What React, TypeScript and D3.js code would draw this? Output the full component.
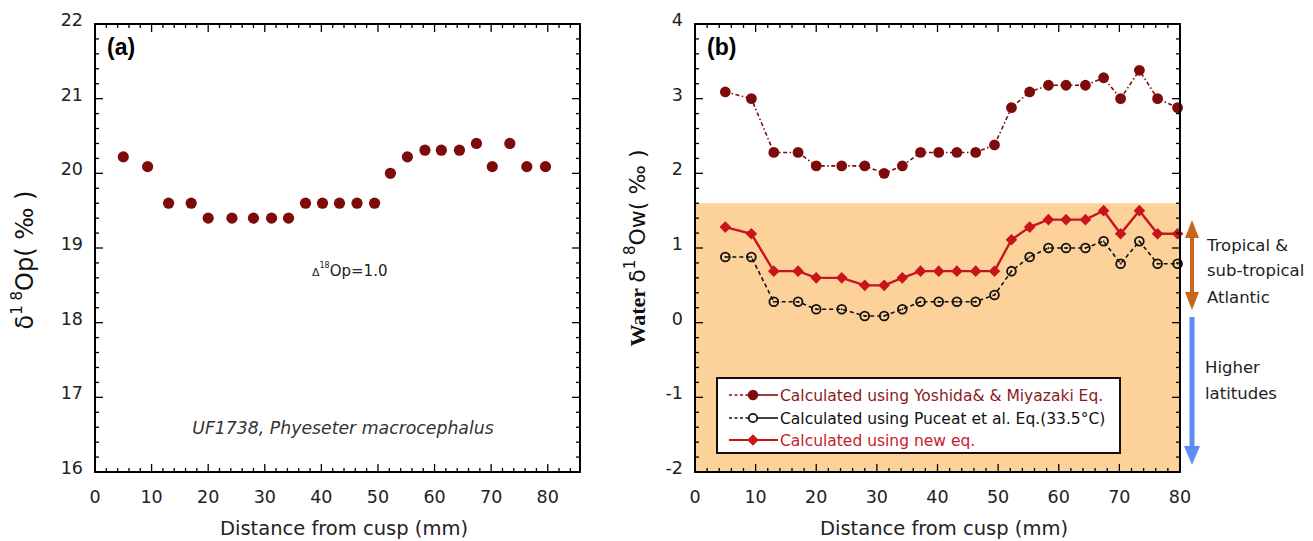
import React from "react";
import * as d3 from "d3";

const distance = [5, 9.3, 13, 17, 20, 24.2, 28, 31.2, 34.2, 37.2, 40.2, 43.2, 46.3, 49.4, 52.2, 55.2, 58.3, 61.2, 64.4, 67.4, 70.2, 73.3, 76.3, 79.6];
const d18Op = [20.22, 20.09, 19.6, 19.6, 19.4, 19.4, 19.4, 19.4, 19.4, 19.6, 19.6, 19.6, 19.6, 19.6, 20.0, 20.22, 20.31, 20.31, 20.31, 20.4, 20.09, 20.4, 20.09, 20.09];
const yoshida = [3.09, 3.0, 2.28, 2.28, 2.1, 2.1, 2.1, 2.0, 2.1, 2.28, 2.28, 2.28, 2.28, 2.38, 2.88, 3.09, 3.18, 3.18, 3.18, 3.28, 3.0, 3.38, 3.0, 2.88];
const puceat = [0.88, 0.88, 0.28, 0.28, 0.18, 0.18, 0.09, 0.09, 0.18, 0.28, 0.28, 0.28, 0.28, 0.37, 0.69, 0.88, 1.0, 1.0, 1.0, 1.09, 0.79, 1.09, 0.79, 0.79];
const newEq = [1.28, 1.19, 0.69, 0.69, 0.6, 0.6, 0.5, 0.5, 0.6, 0.69, 0.69, 0.69, 0.69, 0.69, 1.11, 1.28, 1.38, 1.38, 1.38, 1.5, 1.19, 1.5, 1.19, 1.19];

const xTicks = [0, 10, 20, 30, 40, 50, 60, 70, 80];
const yTicksA = [16, 17, 18, 19, 20, 21, 22];
const yTicksB = [-2, -1, 0, 1, 2, 3, 4];
const tropicalTop = 1.6;

const legendLabels = [
  "Calculated using Yoshida& & Miyazaki Eq.",
  "Calculated using Puceat et al. Eq.(33.5°C)",
  "Calculated using new eq.",
];

const DARK = "#7e0b0b";
const RED = "#c8141c";
const ORANGE_BG = "#fdd29a";
const FONT = "'DejaVu Sans', 'Liberation Sans', Arial, sans-serif";
const FONT2 = "'Liberation Sans', Arial, sans-serif";

const xA = d3.scaleLinear().domain([0, 85.7]).range([95, 580]);
const yA = d3.scaleLinear().domain([16, 22]).range([472, 24]);
const xB = d3.scaleLinear().domain([0, 80]).range([695, 1180]);
const yB = d3.scaleLinear().domain([-2, 4]).range([472, 24]);

function Frame({ x, y, xMax, yMin, yMax, yLabels }: any) {
  const [x0, x1] = x.range();
  const [y0, y1] = y.range();
  const xMinor = d3.range(0, xMax + 0.001, 2);
  const yMinor = d3.range(yMin, yMax + 0.001, 0.2);
  const ticks: any[] = [];
  xMinor.forEach((v, i) => {
    const major = Math.abs(v % 10) < 1e-6;
    const L = major ? 8 : 4;
    const px = x(v);
    ticks.push(<line key={"xb" + i} x1={px} x2={px} y1={y0} y2={y0 - L} />);
    ticks.push(<line key={"xt" + i} x1={px} x2={px} y1={y1} y2={y1 + L} />);
  });
  yMinor.forEach((v, i) => {
    const major = Math.abs(v - Math.round(v)) < 1e-6;
    const L = major ? 8 : 4;
    const py = y(v);
    ticks.push(<line key={"yl" + i} x1={x0} x2={x0 + L} y1={py} y2={py} />);
    ticks.push(<line key={"yr" + i} x1={x1} x2={x1 - L} y1={py} y2={py} />);
  });
  return (
    <g>
      <g stroke="#000" strokeWidth={1.3}>{ticks}</g>
      <rect x={x0} y={y1} width={x1 - x0} height={y0 - y1} fill="none" stroke="#000" strokeWidth={2} />
      <g fontFamily={FONT} fontSize={17.5} fill="#222">
        {xTicks.map((t) => (
          <text key={"xl" + t} x={x(t)} y={503} textAnchor="middle">{t}</text>
        ))}
        {yLabels.map((t: number) => (
          <text key={"ylb" + t} x={x0 - 12} y={y(t) + 2} textAnchor="end">{t}</text>
        ))}
      </g>
    </g>
  );
}

function diamond(cx: number, cy: number, r: number) {
  return `M${cx},${cy - r}L${cx + r},${cy}L${cx},${cy + r}L${cx - r},${cy}Z`;
}

export default function App() {
  const lineYosh = d3.line<number>().x((_, i) => xB(distance[i])).y((v) => yB(v));
  const [bx0, bx1] = xB.range();

  return (
    <svg width={1313} height={541} style={{ display: "block", position: "absolute", left: 0, top: 0 }}>
      <rect width={1313} height={541} fill="#fff" />

      {/* Panel (a) */}
      <Frame x={xA} y={yA} xMax={84} yMin={16} yMax={22} yLabels={yTicksA} />
      {distance.map((d, i) => (
        <circle key={"a" + i} cx={xA(d)} cy={yA(d18Op[i])} r={5.6} fill={DARK} />
      ))}
      <text x={107} y={55} fontFamily={FONT2} fontSize={23} fontWeight="bold">(a)</text>
      <text x={312} y={276} fontFamily={FONT} fontSize={15} fill="#222">
        <tspan fontSize={11}>Δ</tspan>
        <tspan fontSize={8} dy={-8}>18</tspan>
        <tspan dy={8}>Op=1.0</tspan>
      </text>
      <text x={343} y={434} fontFamily={FONT} fontSize={17.3} fontStyle="italic" textAnchor="middle" fill="#333">
        UF1738, Phyeseter macrocephalus
      </text>
      <text x={344} y={535} fontFamily={FONT} fontSize={19.5} textAnchor="middle" fill="#222">
        Distance from cusp (mm)
      </text>
      <text transform="translate(33,260) rotate(-90)" fontFamily={FONT} fontSize={24} textAnchor="middle" fill="#111">
        <tspan>δ</tspan>
        <tspan fontSize={15} dy={-11}>1 8</tspan>
        <tspan dy={11}>Op( ‰ )</tspan>
      </text>

      {/* Panel (b) */}
      <rect x={bx0} y={yB(tropicalTop)} width={bx1 - bx0} height={yB(-2) - yB(tropicalTop)} fill={ORANGE_BG} />
      <path d={lineYosh(yoshida) || ""} fill="none" stroke={DARK} strokeWidth={1.6} strokeDasharray="4,2.5,1.5,2.5" />
      <path d={lineYosh(puceat) || ""} fill="none" stroke="#111" strokeWidth={1.6} strokeDasharray="4,3" />
      <path d={lineYosh(newEq) || ""} fill="none" stroke={RED} strokeWidth={2.4} />
      {distance.map((d, i) => (
        <circle key={"y" + i} cx={xB(d)} cy={yB(yoshida[i])} r={5.4} fill={DARK} />
      ))}
      {distance.map((d, i) => (
        <g key={"p" + i}>
          <circle cx={xB(d)} cy={yB(puceat[i])} r={4.4} fill="none" stroke="#111" strokeWidth={1.8} />
          <circle cx={xB(d)} cy={yB(puceat[i])} r={0.9} fill="#111" />
        </g>
      ))}
      {distance.map((d, i) => (
        <path key={"n" + i} d={diamond(xB(d), yB(newEq[i]), 5.8)} fill={RED} />
      ))}
      <Frame x={xB} y={yB} xMax={80} yMin={-2} yMax={4} yLabels={yTicksB} />
      <text x={707} y={55} fontFamily={FONT2} fontSize={23} fontWeight="bold">(b)</text>
      <text x={944} y={535} fontFamily={FONT} fontSize={19.5} textAnchor="middle" fill="#222">
        Distance from cusp (mm)
      </text>
      <text transform="translate(645,248) rotate(-90)" fontSize={22} textAnchor="middle" fill="#111">
        <tspan fontFamily="'Liberation Serif', 'Times New Roman', serif" fontWeight="bold">Water </tspan>
        <tspan fontFamily={FONT}>δ</tspan>
        <tspan fontFamily={FONT} fontSize={15} dy={-10}>1 8</tspan>
        <tspan fontFamily={FONT} dy={10}>Ow( ‰ )</tspan>
      </text>

      {/* Legend */}
      <rect x={717} y={378} width={403} height={75} fill="#fff" stroke="#111" strokeWidth={2} />
      {[0, 1, 2].map((k) => {
        const cy = [395, 418, 440][k];
        const color = [DARK, "#111", RED][k];
        const textColor = ["#8a1b1b", "#111", "#c8202c"][k];
        return (
          <g key={"lg" + k}>
            {k < 2 ? (
              <>
                <line x1={729} x2={750} y1={cy} y2={cy} stroke={color} strokeWidth={1.6} strokeDasharray="3,2.5" />
                <line x1={753} x2={778} y1={cy} y2={cy} stroke={color} strokeWidth={1.6} />
              </>
            ) : (
              <line x1={729} x2={778} y1={cy} y2={cy} stroke={color} strokeWidth={2} />
            )}
            {k === 0 && <circle cx={753} cy={cy} r={5.2} fill={DARK} />}
            {k === 1 && <circle cx={753} cy={cy} r={4.2} fill="#fff" stroke="#111" strokeWidth={1.8} />}
            {k === 2 && <path d={diamond(753, cy, 5.8)} fill={RED} />}
            <text x={780} y={cy + 5.5} fontFamily={FONT} fontSize={15.5} fill={textColor}>{legendLabels[k]}</text>
          </g>
        );
      })}

      {/* Right annotations */}
      <line x1={1192} x2={1192} y1={232} y2={298} stroke="#c8651b" strokeWidth={4} />
      <path d="M1192,220L1199,238L1185,238Z" fill="#c8651b" />
      <path d="M1192,310L1199,292L1185,292Z" fill="#c8651b" />
      <line x1={1192} x2={1192} y1={317} y2={450} stroke="#5a8ef5" strokeWidth={5} />
      <path d="M1192,465L1200,446L1184,446Z" fill="#5a8ef5" />
      <g fontFamily={FONT} fontSize={16.5} fill="#222">
        <text x={1207} y={251}>Tropical &amp;</text>
        <text x={1207} y={276}>sub-tropical</text>
        <text x={1207} y={303}>Atlantic</text>
        <text x={1205} y={373}>Higher</text>
        <text x={1205} y={399}>latitudes</text>
      </g>
    </svg>
  );
}
